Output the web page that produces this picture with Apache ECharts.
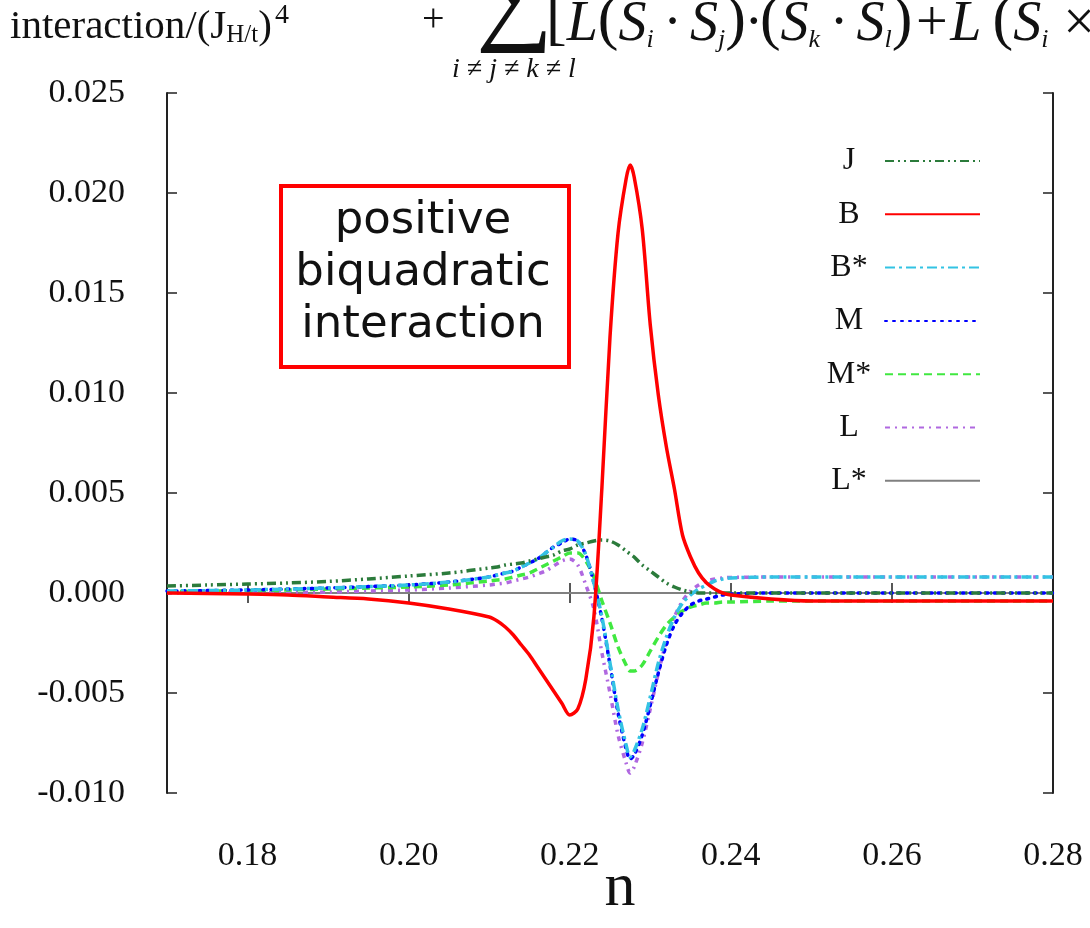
<!DOCTYPE html>
<html>
<head>
<meta charset="utf-8">
<script src="https://cdn.jsdelivr.net/npm/echarts@6/dist/echarts.min.js"></script>
<style>html,body{margin:0;padding:0;background:#fff}#c{width:1090px;height:928px}</style>
</head>
<body>
<div id="c"></div>
<script>
const nValues = [0.170,0.175,0.180,0.185,0.190,0.195,0.200,0.205,
  0.210,0.211,0.212,0.213,0.214,0.215,0.216,0.217,0.218,0.219,0.220,0.221,0.222,0.223,0.224,0.225,0.226,0.227,0.2275,
  0.228,0.229,0.230,0.231,0.232,0.233,0.234,0.235,0.236,0.237,0.238,0.239,0.240,
  0.245,0.250,0.255,0.260,0.265,0.270,0.275,0.280];

const J = [0.00035,0.0004,0.00045,0.0005,0.00058,0.0007,0.00085,0.001,
  0.00125,0.0013,0.0014,0.00145,0.0015,0.0016,0.0017,0.0018,0.0019,0.0021,0.0022,0.0024,0.0025,0.0026,0.00265,0.0026,0.0024,0.0021,0.00195,
  0.0018,0.0014,0.0011,0.0008,0.0005,0.0003,0.00015,0.00005,0,0,0,0,0,
  0,0,0,0,0,0,0,0];

const B = [0,-0.00002,-0.00005,-0.0001,-0.0002,-0.0003,-0.0005,-0.0008,
  -0.0012,-0.0014,-0.0017,-0.0021,-0.0026,-0.0031,-0.0037,-0.0043,-0.0049,-0.0055,-0.0061,-0.0058,-0.0043,-0.0012,0.0053,0.0128,0.0180,0.0207,0.0214,
  0.0208,0.0182,0.0134,0.0099,0.0073,0.0052,0.0029,0.0018,0.0010,0.0005,0.0002,0.0000,-0.0001,
  -0.0003,-0.0004,-0.0004,-0.0004,-0.0004,-0.0004,-0.0004,-0.0004];

const Bs = [0.0001,0.00012,0.00015,0.0002,0.00025,0.00032,0.0004,0.00055,
  0.0008,0.0009,0.001,0.0011,0.0013,0.0015,0.0017,0.002,0.0023,0.0026,0.0027,0.0026,0.0019,0.0005,-0.0012,-0.0035,-0.0058,-0.0076,-0.0082,
  -0.0079,-0.0068,-0.0052,-0.0035,-0.0022,-0.0012,-0.0005,-0.0001,0.0002,0.0004,0.0006,0.0007,0.00075,
  0.0008,0.0008,0.0008,0.0008,0.0008,0.0008,0.0008,0.0008];

const M = [0.0001,0.00012,0.00015,0.0002,0.00025,0.00032,0.0004,0.00055,
  0.0008,0.0009,0.001,0.0011,0.0013,0.0015,0.0017,0.002,0.0023,0.0025,0.0027,0.0026,0.0019,0.0005,-0.0013,-0.0036,-0.0060,-0.0078,-0.0083,
  -0.0081,-0.0071,-0.0056,-0.0040,-0.0026,-0.0016,-0.0010,-0.0006,-0.0004,-0.0003,-0.0002,-0.0001,-0.00005,
  0,0,0,0,0,0,0,0];

const Ms = [0.00007,0.0001,0.00012,0.00015,0.0002,0.00025,0.0003,0.0004,
  0.0006,0.00065,0.0007,0.0008,0.0009,0.001,0.0012,0.0014,0.0016,0.0018,0.002,0.002,0.0016,0.0008,-0.0004,-0.0015,-0.0027,-0.0036,-0.0039,
  -0.0039,-0.0036,-0.0029,-0.0022,-0.0016,-0.0012,-0.0009,-0.0007,-0.0006,-0.0005,-0.0005,-0.00045,-0.00045,
  -0.0004,-0.0004,-0.0004,-0.0004,-0.0004,-0.0004,-0.0004,-0.0004];

const L = [0,0,0,0.00002,0.00005,0.0001,0.00015,0.00025,
  0.0004,0.00045,0.0005,0.0006,0.0007,0.0008,0.00095,0.0011,0.00135,0.0016,0.0017,0.0014,0.0004,-0.0008,-0.0030,-0.0050,-0.0071,-0.0085,-0.0090,
  -0.0087,-0.0075,-0.0058,-0.0040,-0.0024,-0.0012,-0.0004,0.0001,0.0004,0.0006,0.0007,0.00075,0.00078,
  0.0008,0.0008,0.0008,0.0008,0.0008,0.0008,0.0008,0.0008];

const Ls = [0,0,0,0,0,0,0,0,
  0,0,0,0,0,0,0,0,0,0,0,0,0,0,0,0,0,0,0,
  0,0,0,0,0,0,0,0,0,0,0,0,0,
  0,0,0,0,0,0,0,0];

const xTicks = [0.18,0.20,0.22,0.24,0.26,0.28];
const seriesNames = ['J','B','B*','M','M*','L','L*'];
const yLabelTitle = 'interaction/(J';
const noteLines = ['positive','biquadratic','interaction'];

function pairs(v){ return nValues.map((n,i)=>[n, v[i]]); }

const serif = 'Liberation Serif, Times New Roman, serif';
const styles = {
  'J':  {color:'#2b7b3b', width:3.5, type:[9,4,2,4,2,4]},
  'B':  {color:'#ff0000', width:3.5, type:'solid'},
  'B*': {color:'#33c3e3', width:3.5, type:[10,4,3,4]},
  'M':  {color:'#0000ff', width:3.5, type:[2,6]},
  'M*': {color:'#40e840', width:3.5, type:[8,5]},
  'L':  {color:'#b068e0', width:3.5, type:[5,5,2,5]},
  'L*': {color:'#808080', width:1.8, type:'solid'}
};
const dataMap = {'J':J,'B':B,'B*':Bs,'M':M,'M*':Ms,'L':L,'L*':Ls};
const drawOrder = ['L*','L','M*','M','B*','J','B'];

const series = seriesNames.map(name => ({
  name: name,
  type: 'line',
  data: pairs(dataMap[name]),
  symbol: 'none',
  smooth: name === 'L*' ? false : 0.3,
  z: 2 + drawOrder.indexOf(name),
  lineStyle: {color: styles[name].color, width: styles[name].width, type: styles[name].type, cap: name==='M' ? 'round' : 'butt', join:'round'},
  itemStyle: {color: styles[name].color},
  animation: false
}));

const axisLineStyle = {color:'#222', width:2};
const chart = echarts.init(document.getElementById('c'), null, {renderer:'canvas'});
chart.setOption({
  animation: false,
  backgroundColor: '#fff',
  grid: {left:167, top:93, width:886, height:700, show:false, outerBoundsMode:'none', containLabel:false},
  xAxis: [
    {type:'value', min:0.17, max:0.28, position:'bottom',
     axisLine:{show:true, lineStyle:axisLineStyle},
     axisTick:{show:true, inside:true, length:10, customValues:xTicks, lineStyle:{color:'#222', width:1.5}},
     axisLabel:{show:true, customValues:xTicks, formatter:v=>v.toFixed(2), fontFamily:serif, fontSize:34, color:'#111', margin:46},
     splitLine:{show:false},
     name:'n', nameLocation:'middle', nameGap:65, nameMoveOverlap:false,
     nameTextStyle:{fontFamily:serif, fontSize:62, color:'#111', padding:[0,0,0,20]}},
    {type:'value', min:0.17, max:0.28, position:'top',
     axisLine:{show:true, lineStyle:axisLineStyle},
     axisTick:{show:true, inside:true, length:10, customValues:xTicks, lineStyle:{color:'#222', width:1.5}},
     axisLabel:{show:false}, splitLine:{show:false}}
  ],
  yAxis: [
    {type:'value', min:-0.01, max:0.025, interval:0.005, position:'left',
     axisLine:{show:true, lineStyle:axisLineStyle},
     axisTick:{show:true, inside:true, length:10, lineStyle:{color:'#222', width:1.5}},
     axisLabel:{formatter:v=>v.toFixed(3), fontFamily:serif, fontSize:34, color:'#111', margin:42},
     splitLine:{show:false}},
    {type:'value', min:-0.01, max:0.025, interval:0.005, position:'right',
     axisLine:{show:true, lineStyle:axisLineStyle},
     axisTick:{show:true, inside:true, length:10, lineStyle:{color:'#222', width:1.5}},
     axisLabel:{show:false}, splitLine:{show:false}}
  ],
  legend: {
    data: seriesNames,
    orient:'vertical', left:813, top:140, align:'right',
    itemWidth:95, itemHeight:14, itemGap:21.3,
    itemStyle:{opacity:0},
    formatter: name => '{t|' + name + '}',
    textStyle:{fontFamily:serif, fontSize:32, color:'#111',
      rich:{t:{width:62, align:'center', fontFamily:serif, fontSize:32, lineHeight:30}}}
  },
  series: series,
  graphic: [
    {type:'text', left:10, top:2, z:100,
     style:{text:'{a|' + yLabelTitle + '}{s|H/t}{a|)}{g| }{u|4}',
       rich:{a:{fontFamily:serif, fontSize:41, fill:'#111', verticalAlign:'bottom', lineHeight:46},
             s:{fontFamily:serif, fontSize:25, fill:'#111', verticalAlign:'bottom', lineHeight:43},
             g:{fontFamily:serif, fontSize:12, fill:'#111', verticalAlign:'bottom', lineHeight:46},
             u:{fontFamily:serif, fontSize:28, fill:'#111', verticalAlign:'top', lineHeight:46}}}},
    {type:'text', left:422, top:0, z:100,
     style:{text:'+', fontFamily:serif, fontSize:40, fill:'#111'}},
    {type:'text', left:476, top:-52, z:100,
     style:{text:'∑', fontFamily:serif, fontSize:108, fill:'#111'}},
    {type:'text', left:452, top:56, z:100,
     style:{text:'i ≠ j ≠ k ≠ l', fontFamily:serif, fontStyle:'italic', fontSize:28, fill:'#111'}},
    {type:'text', left:546, top:-9, z:100,
     style:{text:'{p|[}{L|L}{p|(}{L|S}{s|i}{L|\u2009·\u2009S}{s|j}{p|)}{L|·}{p|(}{L|S}{s|k}{L|\u2009·\u2009S}{s|l}{p|)}{L|+}{L|L\u2009}{p|(}{L|S}{s|i}{L|\u2009×}',
       rich:{
         p:{fontFamily:serif, fontSize:62, fill:'#111', verticalAlign:'bottom', lineHeight:64},
         L:{fontFamily:serif, fontStyle:'italic', fontSize:56, fill:'#111', verticalAlign:'bottom', lineHeight:60},
         s:{fontFamily:serif, fontStyle:'italic', fontSize:26, fill:'#111', verticalAlign:'bottom', lineHeight:54}
       }}},
    {type:'rect', left:279, top:184, z:100,
     shape:{width:288, height:181},
     style:{fill:'#fff', stroke:'#ff0000', lineWidth:4}},
    {type:'text', x:423, y:195, z:101,
     style:{text:noteLines.join('\n'), align:'center', verticalAlign:'top', fontFamily:'DejaVu Sans, Verdana, sans-serif', fontSize:45, lineHeight:52, fill:'#111'}}
  ]
});
</script>
</body>
</html>
